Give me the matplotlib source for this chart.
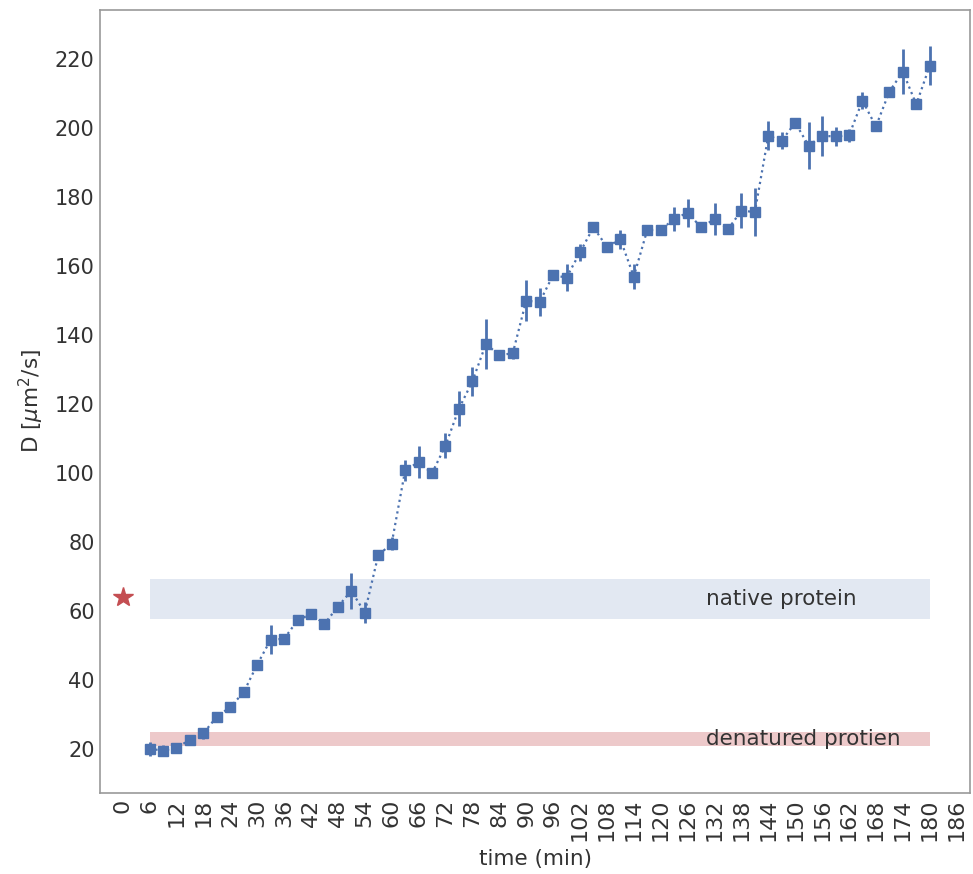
import matplotlib.pyplot as plt
import numpy as np

# diffusion coefficient over time
time = np.arange(6, 181, 3)
D = [20.0, 19.5, 20.3, 22.6, 24.5, 29.3, 32.1, 36.4, 44.4, 51.6,
     51.9, 57.2, 59.1, 56.2, 61.2, 65.8, 59.5, 76.1, 79.5, 100.7,
     103.1, 99.9, 107.9, 118.6, 126.5, 137.3, 134.2, 134.6, 149.9, 149.5,
     157.3, 156.6, 163.9, 171.2, 165.5, 167.7, 156.9, 170.4, 170.4, 173.6,
     175.4, 171.2, 173.5, 170.6, 176.0, 175.6, 197.7, 196.3, 201.5, 194.8,
     197.7, 197.5, 197.8, 207.9, 200.4, 210.5, 216.3, 206.8, 218.0]
D_err = [2.0, 1.5, 1.0, 1.0, 1.6, 1.0, 1.5, 1.0, 1.0, 4.2,
         1.0, 1.0, 1.0, 1.0, 1.5, 5.2, 3.0, 1.0, 2.0, 3.0,
         4.6, 1.5, 3.7, 5.0, 4.3, 7.3, 1.5, 1.5, 5.9, 4.1,
         1.0, 4.0, 2.4, 1.0, 1.0, 2.7, 3.6, 1.0, 1.0, 3.6,
         4.0, 1.0, 4.7, 1.0, 5.0, 7.0, 4.2, 2.4, 1.0, 6.8,
         5.8, 2.7, 2.0, 2.5, 1.0, 1.0, 6.5, 1.0, 5.7]

native_D = 64
native_range = (57.7, 69.3)
denatured_range = (20.8, 24.8)
band_span = (6, 180)

blue = '#4C72B0'
red = '#C44E52'

fig = plt.figure(figsize=(9.73, 8.74), dpi=100)
ax = fig.add_axes([0.103, 0.0927, 0.894, 0.896])

ax.fill_between(band_span, *native_range, color=blue, alpha=0.16, linewidth=0)
ax.fill_between(band_span, *denatured_range, color=red, alpha=0.3, linewidth=0)

ax.errorbar(time, D, yerr=D_err, fmt='s', color=blue, markersize=7,
            elinewidth=2, linestyle=':', linewidth=1.6)
ax.plot(0, native_D, marker='*', color=red, markersize=15, linestyle='none')

ax.text(130, np.mean(native_range), 'native protein', fontsize=15.5,
        color='#333333', va='center')
ax.text(130, np.mean(denatured_range), 'denatured protien', fontsize=15.5,
        color='#333333', va='center')

ax.set_xlim(-5, 189)
ax.set_ylim(7.2, 234.2)
ax.set_xticks(range(0, 187, 6))
ax.set_xticklabels([str(t) for t in range(0, 187, 6)], rotation=90)
ax.set_yticks(range(20, 221, 20))
ax.tick_params(colors='#333333', length=0, pad=4)
ax.tick_params(axis='x', labelsize=16)
ax.tick_params(axis='y', labelsize=15)

ax.set_xlabel('time (min)', fontsize=15.5, color='#333333', labelpad=6)
ax.set_ylabel(r'D [$\mu$m$^2$/s]', fontsize=15.5, color='#333333', labelpad=6)

for s in ax.spines.values():
    s.set_color('#999999')
    s.set_linewidth(1.2)

fig.savefig('out.png', dpi=100)
